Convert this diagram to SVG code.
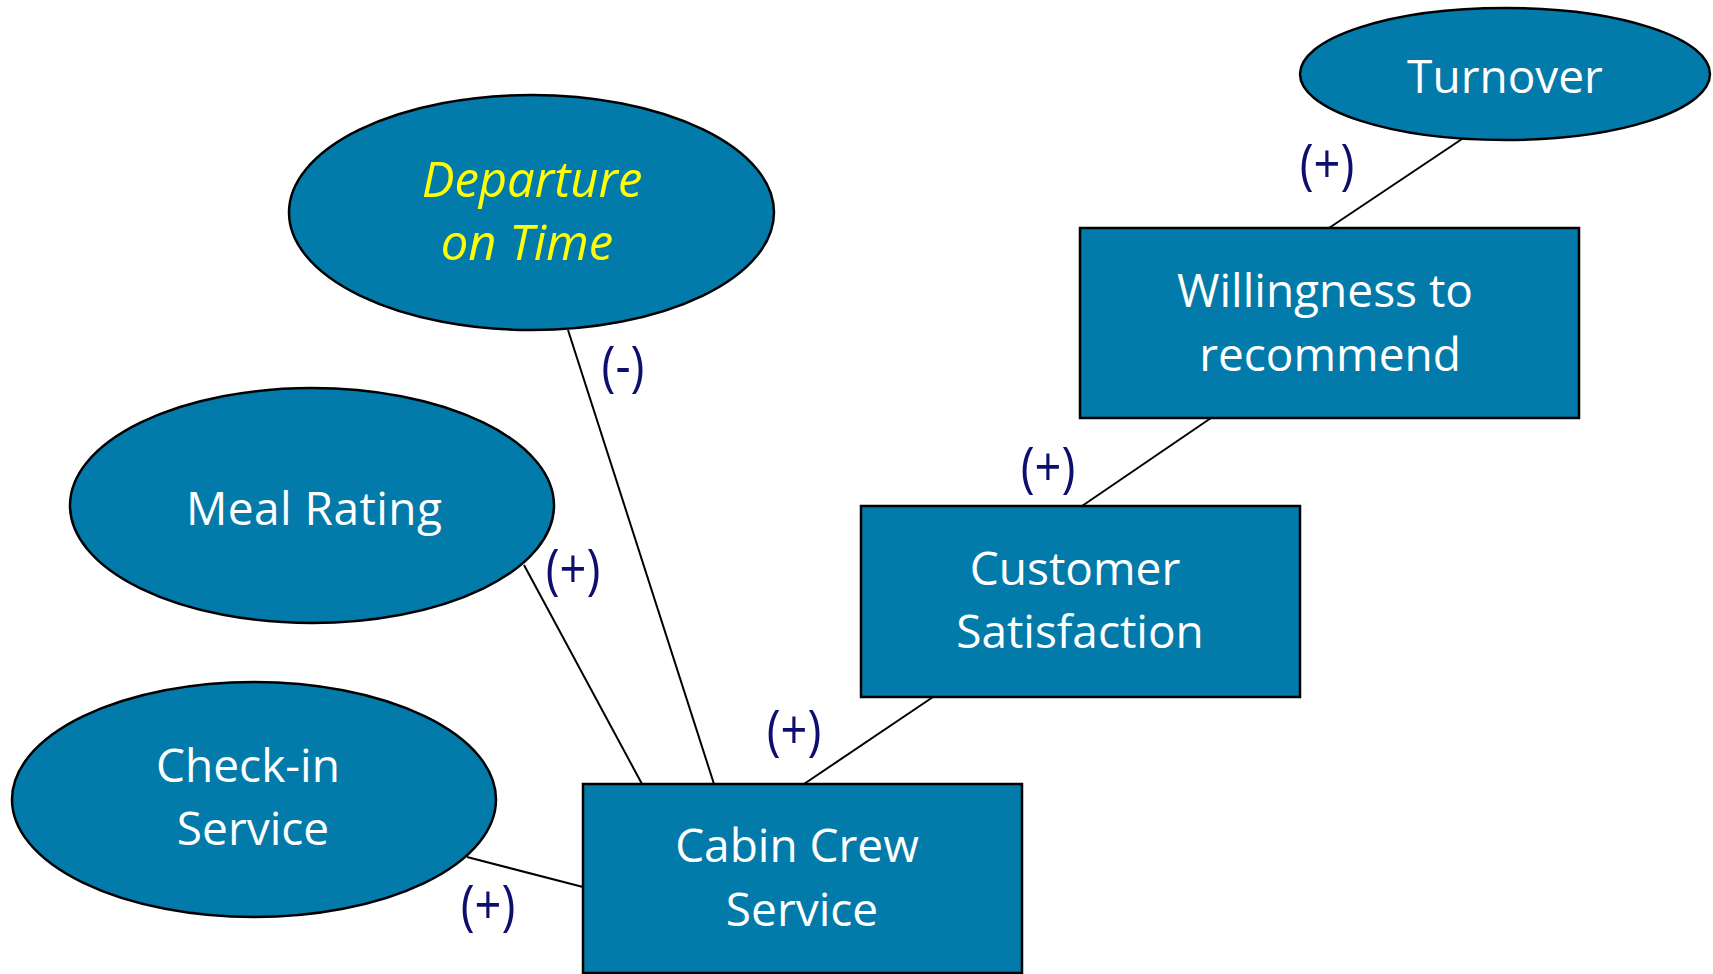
<svg xmlns="http://www.w3.org/2000/svg" width="1713" height="974" viewBox="0 0 1713 974">
<style>
.n{fill:#027aaa;stroke:#000;stroke-width:2.5}
.t{font-family:"Open Sans","Noto Sans",sans-serif;font-size:46px;fill:#fff;text-anchor:middle}
.y{font-family:"Open Sans","Noto Sans",sans-serif;font-size:49px;fill:#ffff00;font-style:italic;text-anchor:middle}
.l{font-family:"Open Sans","Noto Sans",sans-serif;font-size:47px;fill:#0e0e6e;text-anchor:middle}
.c{stroke:#000;stroke-width:2;fill:none}
</style>
<rect width="1713" height="974" fill="#fff"/>
<g id="connectors">
<line class="c" x1="1462" y1="139" x2="1329" y2="228"/>
<line class="c" x1="1211" y1="418" x2="1082" y2="506"/>
<line class="c" x1="933" y1="697" x2="804" y2="784"/>
<line class="c" x1="568" y1="330" x2="714" y2="784"/>
<line class="c" x1="524" y1="565" x2="642" y2="784"/>
<line class="c" x1="467" y1="857" x2="583" y2="887"/>
<text class="l" transform="translate(1327 183) scale(1 1.16)">(+)</text>
<text class="l" transform="translate(1048 486) scale(1 1.16)">(+)</text>
<text class="l" transform="translate(794 749) scale(1 1.16)">(+)</text>
<text class="l" transform="translate(623 385) scale(1 1.16)">(-)</text>
<text class="l" transform="translate(573 588) scale(1 1.16)">(+)</text>
<text class="l" transform="translate(488 924) scale(1 1.16)">(+)</text>
</g>
<g id="turnover">
<ellipse class="n" cx="1505" cy="74" rx="205" ry="66"/>
<text class="t" x="1505" y="93">Turnover</text>
</g>
<g id="willingness">
<rect class="n" x="1080" y="228" width="499" height="190"/>
<text class="t" x="1325" y="307">Willingness to</text>
<text class="t" x="1330" y="371">recommend</text>
</g>
<g id="customer-satisfaction">
<rect class="n" x="861" y="506" width="439" height="191"/>
<text class="t" x="1075" y="585">Customer</text>
<text class="t" x="1080" y="648">Satisfaction</text>
</g>
<g id="cabin-crew">
<rect class="n" x="583" y="784" width="439" height="189"/>
<text class="t" x="797" y="862">Cabin Crew</text>
<text class="t" x="802" y="926">Service</text>
</g>
<g id="departure">
<ellipse class="n" cx="531.5" cy="212.5" rx="242.5" ry="117.5"/>
<text class="y" x="532" y="197">Departure</text>
<text class="y" x="527" y="260">on Time</text>
</g>
<g id="meal-rating">
<ellipse class="n" cx="312" cy="505.5" rx="242" ry="117.5"/>
<text class="t" x="314" y="525" textLength="256" lengthAdjust="spacing">Meal Rating</text>
</g>
<g id="check-in">
<ellipse class="n" cx="254" cy="799.5" rx="242" ry="117.5"/>
<text class="t" x="248" y="782">Check-in</text>
<text class="t" x="253" y="845">Service</text>
</g>
</svg>
